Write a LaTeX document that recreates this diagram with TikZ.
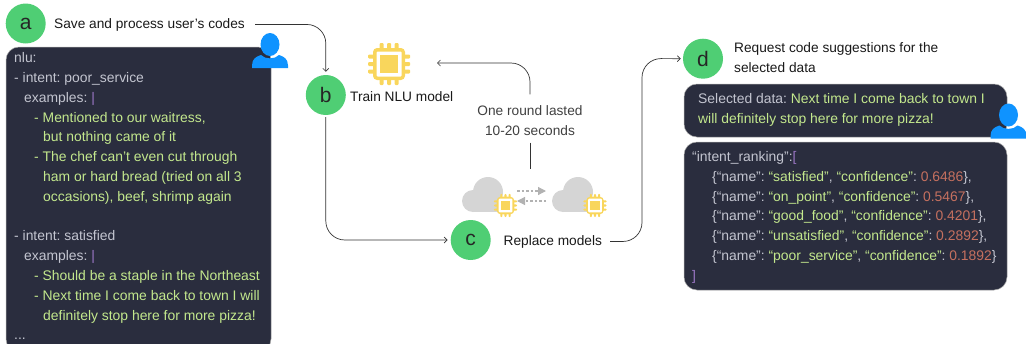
\documentclass[tikz,border=0pt]{standalone}
\usepackage{fontspec}
\usepackage{xcolor}
\usetikzlibrary{arrows.meta}
\setmainfont{Liberation Sans}
\frenchspacing
\definecolor{stepgreen}{HTML}{4FCE74}
\definecolor{panelnavy}{HTML}{2A2D3E}
\definecolor{codegray}{HTML}{C3C5D0}
\definecolor{codegreen}{HTML}{C3E88D}
\definecolor{codepurple}{HTML}{9A76C4}
\definecolor{coderust}{HTML}{C5705F}
\definecolor{chipyellow}{HTML}{F9D65C}
\definecolor{userblue}{HTML}{0F93FF}
\definecolor{cloudgray}{HTML}{D5D5D5}
\definecolor{linegray}{HTML}{333333}
\newcommand{\gn}[1]{\textcolor{codegreen}{#1}}
\newcommand{\rs}[1]{\textcolor{coderust}{#1}}
\newcommand{\pp}[1]{\textcolor{codepurple}{#1}}
\tikzset{
    step-dot/.style = {circle, fill=stepgreen, minimum size=40pt, inner sep=0pt, text=black!85, font=\fontsize{21}{21}\selectfont},
    step-text/.style = {font=\fontsize{13.7}{19.6}\selectfont, align=left, inner sep=0pt, text=black!90},
    panel/.style = {draw=black!35, line width=.5pt, fill=panelnavy, rounded corners=13pt},
    code-text/.style = {font=\fontsize{13.9}{19.8}\selectfont, align=left, inner sep=0pt, text=codegray},
    link/.style = {draw=linegray, line width=.7pt, rounded corners=19pt, -{Straight Barb[length=3pt,width=6pt]}},
    swap/.style = {draw=black!30, line width=1.2pt, dash pattern=on 2.5pt off 2pt, -{Triangle[length=8pt,width=8pt]}},
    pics/chip/.style = {code = {
        \foreach \s in {-7.5,0,7.5} {
            \fill[chipyellow, rounded corners=1pt] (\s-2,-21) rectangle (\s+2,21);
            \fill[chipyellow, rounded corners=1pt] (-21,\s-2) rectangle (21,\s+2);
        }
        \fill[chipyellow, rounded corners=4pt] (-16,-16) rectangle (16,16);
        \fill[white, rounded corners=1pt] (-12.5,-12.5) rectangle (12.5,12.5);
        \fill[chipyellow] (-9,-9) rectangle (9,9);
    }},
    pics/user/.style = {code = {
        \fill[userblue] (0,0) ellipse (9.5 and 11.5);
        \fill[userblue] (-18,23.5) -- (-18,21) .. controls (-18,14.5) and (-14,12) .. (-9,10.5) .. controls (-5,15) and (5,15) .. (9,10.5) .. controls (14,12) and (18,14.5) .. (18,21) -- (18,23.5) -- cycle;
    }},
    pics/cloud/.style = {code = {
        \fill[cloudgray] (11,-11) circle (11);
        \fill[cloudgray] (26,-20) circle (15);
        \fill[cloudgray] (11,-15) rectangle (41,0);
    }},
}
\begin{document}
\begin{tikzpicture}[x=1pt,y=-1pt]
\useasboundingbox (0,0) rectangle (1026,343);
% left panel
\begin{scope}
\clip (0,0) rectangle (1026,343);
\path[panel] (6,47) rectangle (271,352);
\end{scope}
\node[step-dot] (a) at (25.7,23.5) {a};
\node[step-text, anchor=base west] (save) at (54,28) {Save and process user's codes};
\pic at (270,44.5) {user};
\node[code-text, anchor=north west] (nlubody) at (14,52.5) {%
nlu:\\
- intent: poor\_service\\
\hspace*{10pt}examples: \pp{|}\\
\hspace*{20pt}\gn{- Mentioned to our waitress,}\\
\hspace*{29pt}\gn{but nothing came of it}\\
\hspace*{20pt}\gn{- The chef can't even cut through}\\
\hspace*{29pt}\gn{ham or hard bread (tried on all 3}\\
\hspace*{29pt}\gn{occasions), beef, shrimp again}\\
\mbox{}\\
- intent: satisfied\\
\hspace*{10pt}examples: \pp{|}\\
\hspace*{20pt}\gn{- Should be a staple in the Northeast}\\
\hspace*{20pt}\gn{- Next time I come back to town I will}\\
\hspace*{29pt}\gn{definitely stop here for more pizza!}\\
...};
% middle
\node[step-dot] (b) at (325.8,95) {b};
\node[step-text, anchor=base west] (train) at (350,101.7) {Train NLU model};
\pic at (389,64) {chip};
\node[step-dot] (c) at (470.7,240) {c};
\node[step-text, anchor=base west] (replace) at (503.5,245) {Replace models};
\node[step-text, align=center, text=black!75] (round) at (530,120.5) {One round lasted\\10-20 seconds};
\pic at (462,212) {cloud};
\pic at (552,212) {cloud};
\pic[scale=.55] at (505.5,205.5) {chip};
\pic[scale=.55] at (595,205.5) {chip};
\coordinate (swapa) at (517,191);
\coordinate (swapb) at (546,191);
\coordinate (swapc) at (546,201);
\coordinate (swapd) at (517,201);
\coordinate (trainin) at (437,63);
\coordinate (roundfoot) at (530,169);
\coordinate (dturn) at (642,58.5);
% right panels
\node[step-dot] (d) at (703,58.7) {d};
\node[step-text, anchor=base west] (request) at (734,72) {Request code suggestions for the\\selected data};
\path[panel] (684,84) rectangle (1007,137);
\path[panel] (684,142) rectangle (1007,290);
\pic at (1008.5,115) {user};
\node[code-text, anchor=base west] (selected) at (698,103) {Selected data: \gn{Next time I come back to town I}};
\node[code-text, anchor=base west] (selectedtwo) at (698,123) {\gn{will definitely stop here for more pizza!}};
\node[code-text, anchor=base west] (ranking) at (692,161) {“intent\_ranking”:\pp{[}};
\node[code-text, anchor=base west] (rowa) at (712,181) {\{“name”: \gn{“satisfied”}, \gn{“confidence”}: \rs{0.6486}\},};
\node[code-text, anchor=base west] (rowb) at (712,201) {\{“name”: \gn{“on\_point”}, \gn{“confidence”}: \rs{0.5467}\},};
\node[code-text, anchor=base west] (rowc) at (712,220.5) {\{“name”: \gn{“good\_food”}, \gn{“confidence”}: \rs{0.4201}\},};
\node[code-text, anchor=base west] (rowd) at (712,240.5) {\{“name”: \gn{“unsatisfied”}, \gn{“confidence”}: \rs{0.2892}\},};
\node[code-text, anchor=base west] (rowe) at (712,260) {\{“name”: \gn{“poor\_service”}, \gn{“confidence”}: \rs{0.1892}\}};
\node[code-text, anchor=base west] (closing) at (692,280) {\pp{]}};
% connectors
\draw[swap] (swapa) -- (swapb);
\draw[swap] (swapc) -- (swapd);
\draw[link, shorten >=3pt, shorten <=10pt] (save.east) -| (b.north);
\draw[link, shorten >=3pt] (b.south) ++(0,2) |- (c.west);
\draw[link, shorten <=11pt] (round.north) |- (trainin);
\draw[draw=linegray, line width=.7pt, shorten <=7pt] (round.south) -- (roundfoot);
\draw[link, shorten >=2pt, shorten <=8pt] (replace.east) -| (dturn) -- (d.west);
\end{tikzpicture}
\end{document}
